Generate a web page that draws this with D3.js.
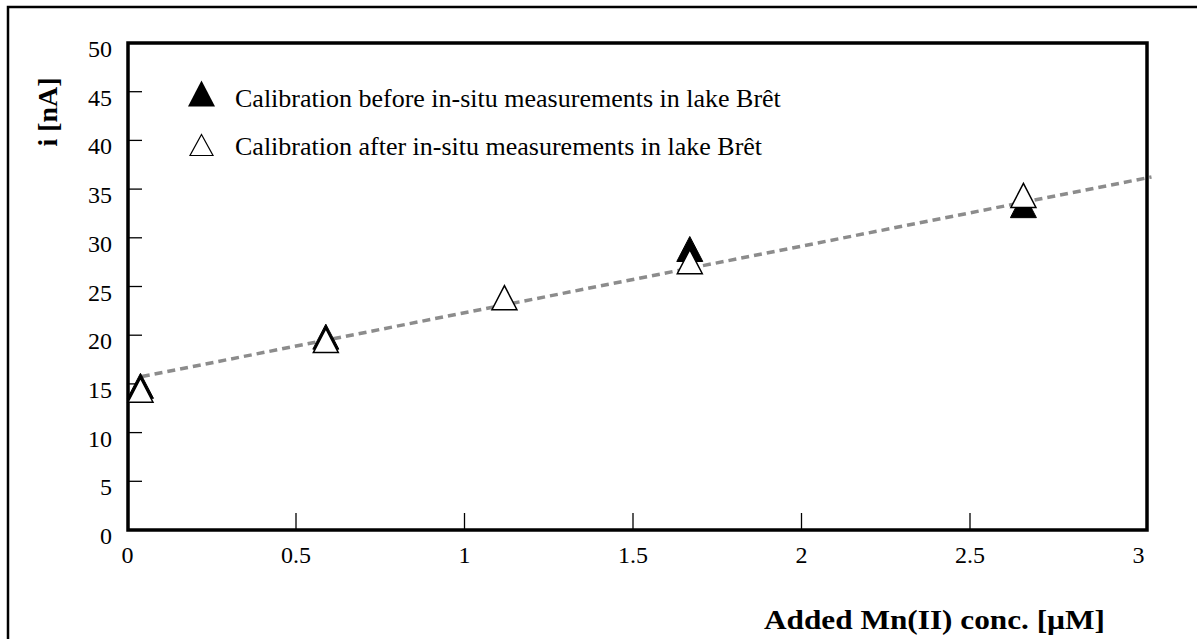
<!DOCTYPE html>
<html>
<head>
<meta charset="utf-8">
<script src="https://cdn.jsdelivr.net/npm/d3@7"></script>
<style>
  body { margin: 0; background: #fff; }
  text { font-family: "Liberation Serif", "Times New Roman", serif; fill: #000; }
</style>
</head>
<body>
<svg id="chart"></svg>
<script>
// data
const beforeConc = [0.04, 0.59, 1.67, 2.66];
const beforeCurrent = [14.75, 19.8, 28.8, 33.3];
const afterConc = [0.04, 0.59, 1.12, 1.67, 2.66];
const afterCurrent = [14.3, 19.4, 23.8, 27.5, 34.3];
const fitEnds = [0.044, 3.04];
const fitIntercept = 15.4;
const fitSlope = 6.84;
const xTickValues = [0, 0.5, 1, 1.5, 2, 2.5, 3];
const yTickValues = [0, 5, 10, 15, 20, 25, 30, 35, 40, 45, 50];
const legendLabels = [
    'Calibration before in-situ measurements in lake Brêt',
    'Calibration after in-situ measurements in lake Brêt'
];

const width = 1197;
const height = 639;
const plot = { left: 128, top: 43, right: 1147, bottom: 530 };

const svg = d3.select('#chart').attr('width', width).attr('height', height);

const x = d3.scaleLinear().domain([0, 3]).range([127, 1138]);
const y = d3.scaleLinear().domain([0, 50]).range([529.5, 42.5]);

// triangle path centred on its bounding box
function triangle(w, h) {
    return `M0,${-h / 2}L${w / 2},${h / 2}L${-w / 2},${h / 2}Z`;
}

// outer frame (runs off the right and bottom of the picture)
svg.append('rect')
    .attr('x', 8).attr('y', 7)
    .attr('width', 1400).attr('height', 800)
    .attr('fill', 'none')
    .attr('stroke', '#000')
    .attr('stroke-width', 2.5);

// y axis: inward ticks
const yAxis = svg.append('g')
    .attr('transform', `translate(${plot.left},0)`)
    .call(d3.axisLeft(y).tickValues(yTickValues).tickSize(-14).tickPadding(16));
yAxis.select('.domain').remove();
yAxis.selectAll('.tick line')
    .attr('stroke', '#000').attr('stroke-width', 1.3)
    .style('display', d => (d === 0 || d === 50) ? 'none' : null);
yAxis.selectAll('.tick text')
    .attr('dy', 14)
    .style('font-size', '24px')
    .style('font-family', '"Liberation Serif", "Times New Roman", serif');

// x axis: inward ticks
const xAxis = svg.append('g')
    .attr('transform', `translate(0,${plot.bottom})`)
    .call(d3.axisBottom(x).tickValues(xTickValues).tickSize(-17).tickPadding(16)
        .tickFormat(d3.format('')));
xAxis.select('.domain').remove();
xAxis.selectAll('.tick line')
    .attr('stroke', '#000').attr('stroke-width', 1.3)
    .style('display', d => (d === 0 || d === 3) ? 'none' : null);
xAxis.selectAll('.tick text')
    .style('font-size', '24px')
    .style('font-family', '"Liberation Serif", "Times New Roman", serif');

// plot frame
svg.append('rect')
    .attr('x', plot.left).attr('y', plot.top)
    .attr('width', plot.right - plot.left)
    .attr('height', plot.bottom - plot.top)
    .attr('fill', 'none')
    .attr('stroke', '#000')
    .attr('stroke-width', 3.5);

// regression line
const line = d3.line().x(d => x(d)).y(d => y(fitIntercept + fitSlope * d));
svg.append('path')
    .datum(fitEnds)
    .attr('d', line)
    .attr('fill', 'none')
    .attr('stroke', '#8c8c8c')
    .attr('stroke-width', 3.5)
    .attr('stroke-dasharray', '8,5');

// before: filled triangles
svg.selectAll('.before')
    .data(beforeConc.map((c, i) => [c, beforeCurrent[i]]))
    .enter().append('path')
    .attr('class', 'before')
    .attr('transform', d => `translate(${x(d[0])},${y(d[1])})`)
    .attr('d', triangle(26, 25))
    .attr('fill', '#000')
    .attr('stroke', '#000')
    .attr('stroke-width', 1);

// after: open triangles
svg.selectAll('.after')
    .data(afterConc.map((c, i) => [c, afterCurrent[i]]))
    .enter().append('path')
    .attr('class', 'after')
    .attr('transform', d => `translate(${x(d[0])},${y(d[1])})`)
    .attr('d', triangle(25, 24))
    .attr('fill', '#fff')
    .attr('stroke', '#000')
    .attr('stroke-width', 1.5);

// legend
const legend = svg.append('g');
legend.append('path')
    .attr('transform', 'translate(201.5,93.5)')
    .attr('d', triangle(27, 26))
    .attr('fill', '#000');
legend.append('path')
    .attr('transform', 'translate(201.5,145)')
    .attr('d', triangle(23, 21))
    .attr('fill', '#fff')
    .attr('stroke', '#000')
    .attr('stroke-width', 1.2);
legend.selectAll('text')
    .data(legendLabels)
    .enter().append('text')
    .attr('x', 235)
    .attr('y', (d, i) => 107 + i * 48)
    .style('font-size', '26px')
    .text(d => d);

// axis titles
svg.append('text')
    .attr('transform', 'translate(57,112) rotate(-90)')
    .attr('text-anchor', 'middle')
    .style('font-size', '28px')
    .style('font-weight', 'bold')
    .text('i [nA]');

svg.append('text')
    .attr('x', 764)
    .attr('y', 629)
    .attr('textLength', 341)
    .attr('lengthAdjust', 'spacingAndGlyphs')
    .style('font-size', '28px')
    .style('font-weight', 'bold')
    .text('Added Mn(II) conc. [µM]');
</script>
</body>
</html>
